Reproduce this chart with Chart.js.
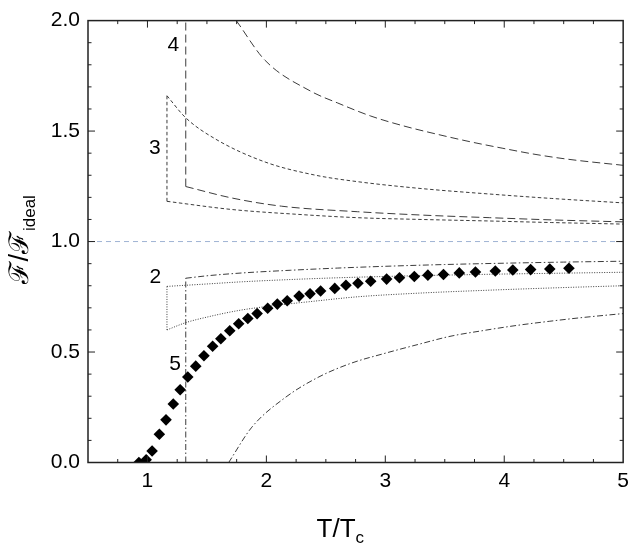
<!DOCTYPE html>
<html lang="en">
<head>
<meta charset="UTF-8">
<title>F/F_ideal vs T/Tc</title>
<script src="https://cdn.jsdelivr.net/npm/chart.js"></script>
<style>
  html, body { margin: 0; padding: 0; background: #fff; }
</style>
</head>
<body>
<canvas id="chart" width="635" height="545"></canvas>
<script>
// axis ticks
const xTicks = [1, 2, 3, 4, 5];
const yTicks = [0, 0.5, 1.0, 1.5, 2.0];
const refLevel = 1.0;

// diamonds (lattice points)
const latticeT = [0.928, 0.989, 1.039, 1.10, 1.156, 1.217, 1.275, 1.339, 1.406, 1.475,
                  1.548, 1.617, 1.692, 1.767, 1.844, 1.922, 2.011, 2.092, 2.175, 2.275,
                  2.367, 2.456, 2.575, 2.669, 2.77, 2.877, 3.011, 3.119, 3.244, 3.358,
                  3.489, 3.622, 3.758, 3.925, 4.072, 4.222, 4.383, 4.544];
const latticeF = [0.0, 0.012, 0.052, 0.128, 0.193, 0.265, 0.329, 0.387, 0.436, 0.483,
                  0.526, 0.56, 0.596, 0.628, 0.652, 0.674, 0.698, 0.717, 0.732, 0.753,
                  0.764, 0.776, 0.788, 0.802, 0.811, 0.820, 0.830, 0.836, 0.842, 0.848,
                  0.851, 0.858, 0.862, 0.867, 0.871, 0.873, 0.876, 0.879];

// curve 2 (dotted)
const curve2Vertical = [[1.164, 0.60], [1.164, 0.797]];
const curve2Upper = [[1.164, 0.797], [1.5, 0.808], [1.8, 0.818], [2.2, 0.828], [2.6, 0.836],
                     [3.0, 0.842], [3.5, 0.848], [4.0, 0.853], [4.5, 0.857], [5.0, 0.861]];
const curve2Lower = [[1.164, 0.60], [1.322, 0.633], [1.5, 0.658], [1.767, 0.688], [2.0, 0.706],
                     [2.4, 0.73], [2.767, 0.75], [3.3, 0.767], [3.878, 0.78], [4.4, 0.79], [5.0, 0.80]];

// curve 3 (short dashes)
const curve3Vertical = [[1.164, 1.182], [1.164, 1.66]];
const curve3Upper = [[1.164, 1.66], [1.322, 1.56], [1.572, 1.464], [1.989, 1.36], [2.406, 1.301],
                     [2.767, 1.271], [3.3, 1.24], [3.878, 1.215], [4.4, 1.195], [5.0, 1.175]];
const curve3Lower = [[1.164, 1.182], [1.711, 1.145], [2.267, 1.123], [2.767, 1.108], [3.3, 1.10],
                     [3.878, 1.093], [4.4, 1.086], [5.0, 1.079]];

// curve 4 (long dashes)
const curve4Vertical = [[1.322, 1.249], [1.322, 2.0]];
const curve4Upper = [[1.747, 2.0], [1.989, 1.82], [2.378, 1.679], [2.6, 1.627], [2.878, 1.568],
                     [3.156, 1.523], [3.433, 1.486], [3.711, 1.452], [3.989, 1.422], [4.267, 1.394],
                     [4.544, 1.372], [5.0, 1.345]];
const curve4Lower = [[1.322, 1.249], [1.711, 1.197], [2.128, 1.16], [2.767, 1.135], [3.3, 1.12],
                     [3.878, 1.108], [4.4, 1.098], [5.0, 1.089]];

// curve 5 (dash-dot)
const curve5Vertical = [[1.322, 0.0], [1.322, 0.834]];
const curve5Upper = [[1.322, 0.834], [1.5, 0.845], [1.8, 0.858], [2.2, 0.870], [2.6, 0.880],
                     [3.0, 0.888], [3.5, 0.896], [4.0, 0.902], [4.5, 0.907], [5.0, 0.911]];
const curve5Lower = [[1.683, 0.0], [1.878, 0.16], [2.156, 0.293], [2.433, 0.385], [2.711, 0.449],
                     [2.989, 0.493], [3.267, 0.533], [3.544, 0.571], [3.822, 0.597], [4.1, 0.62],
                     [4.378, 0.639], [4.656, 0.656], [5.0, 0.674]];

// curve number labels
const curveNames = ['2', '3', '4', '5'];
const nameT = [1.067, 1.0625, 1.217, 1.233];
const nameF = [0.838, 1.421, 1.887, 0.443];

const FONT = "'Liberation Sans', Arial, Helvetica, sans-serif";
const LINE = '#3c3c3c';

function toPts(arr) {
    return arr.map(p => ({ x: p[0], y: p[1] }));
}

function branch(arr, dash) {
    return {
        data: toPts(arr), showLine: true, borderColor: LINE, borderWidth: 1,
        borderDash: dash, pointRadius: 0, fill: false,
        cubicInterpolationMode: 'monotone'
    };
}

function vertical(arr, dash) {
    return {
        data: toPts(arr), showLine: true, borderColor: LINE, borderWidth: 1,
        borderDash: dash, pointRadius: 0, fill: false, tension: 0
    };
}

const DASH2 = [1, 1.5];
const DASH3 = [3.5, 2.5];
const DASH4 = [8, 4];
const DASH5 = [6, 2.5, 1.5, 2.5];

// inward ticks, frame, axis titles and curve numbers
const framePlugin = {
    id: 'frame',
    afterDraw(chart) {
        const { ctx, chartArea: a, scales: { x, y } } = chart;
        ctx.save();
        ctx.strokeStyle = '#222';
        ctx.lineWidth = 1;
        function seg(x1, y1, x2, y2) {
            ctx.beginPath(); ctx.moveTo(x1, y1); ctx.lineTo(x2, y2); ctx.stroke();
        }
        for (let i = 3; i < 20; i++) {
            const v = i / 4;
            const px = x.getPixelForValue(v);
            const len = i % 4 === 0 ? 7 : 3.5;
            seg(px, a.bottom, px, a.bottom - len);
            seg(px, a.top, px, a.top + len);
        }
        for (let i = 1; i < 20; i++) {
            const py = y.getPixelForValue(i / 10);
            const len = i % 5 === 0 ? 7 : 3.5;
            seg(a.left, py, a.left + len, py);
            seg(a.right, py, a.right - len, py);
        }
        ctx.lineWidth = 1.5;
        ctx.strokeRect(a.left, a.top, a.right - a.left, a.bottom - a.top);

        // curve numbers
        ctx.fillStyle = '#000';
        ctx.font = '21px ' + FONT;
        ctx.textAlign = 'center';
        ctx.textBaseline = 'middle';
        curveNames.forEach((t, i) => {
            ctx.fillText(t, x.getPixelForValue(nameT[i]), y.getPixelForValue(nameF[i]));
        });

        // x title T/Tc
        ctx.textAlign = 'left';
        ctx.textBaseline = 'alphabetic';
        ctx.font = '26px ' + FONT;
        const xt = 'T/T';
        const xw = ctx.measureText(xt).width;
        const xs = (a.left + a.right) / 2 - 39;
        const xb = 537;
        ctx.fillText(xt, xs, xb);
        ctx.font = '17px ' + FONT;
        ctx.fillText('c', xs + xw, xb + 6);

        // y title F/F_ideal
        ctx.translate(28, (a.top + a.bottom) / 2 + 42);
        ctx.rotate(-Math.PI / 2);
        ctx.font = '27px ' + FONT;
        const yt = '\u2131/\u2131';
        const yw = ctx.measureText(yt).width;
        ctx.fillText(yt, 0, 0);
        ctx.font = '17px ' + FONT;
        ctx.fillText('ideal', yw + 1, 7);
        ctx.restore();
    }
};

new Chart(document.getElementById('chart'), {
    type: 'scatter',
    data: {
        datasets: [
            {
                data: latticeT.map((t, i) => ({ x: t, y: latticeF[i] })),
                pointStyle: 'rectRot', pointRadius: 5.8, pointBorderWidth: 0,
                backgroundColor: '#000', borderColor: '#000', showLine: false
            },
            vertical(curve2Vertical, DASH2), branch(curve2Upper, DASH2), branch(curve2Lower, DASH2),
            vertical(curve3Vertical, DASH3), branch(curve3Upper, DASH3), branch(curve3Lower, DASH3),
            vertical(curve4Vertical, DASH4), branch(curve4Upper, DASH4), branch(curve4Lower, DASH4),
            vertical(curve5Vertical, DASH5), branch(curve5Upper, DASH5), branch(curve5Lower, DASH5),
            {
                data: [{ x: 0.5, y: refLevel }, { x: 5, y: refLevel }],
                showLine: true, borderColor: '#9fb3d3', borderWidth: 1,
                borderDash: [5, 4], pointRadius: 0, tension: 0
            }
        ]
    },
    options: {
        responsive: false,
        animation: false,
        layout: { padding: { top: 12.7, right: 7, left: 0, bottom: 0 } },
        plugins: { legend: { display: false }, tooltip: { enabled: false } },
        scales: {
            x: {
                type: 'linear', min: 0.5, max: 5,
                afterBuildTicks: s => { s.ticks = xTicks.map(v => ({ value: v })); },
                afterFit: s => { s.height = 82.5; },
                grid: { display: false, drawTicks: false },
                border: { display: false },
                ticks: {
                    color: '#000', padding: 6, maxRotation: 0, autoSkip: false,
                    font: { family: FONT, size: 21 },
                    callback: v => String(v)
                }
            },
            y: {
                type: 'linear', min: 0, max: 2,
                afterBuildTicks: s => { s.ticks = yTicks.map(v => ({ value: v })); },
                afterFit: s => { s.width = 88; },
                grid: { display: false, drawTicks: false },
                border: { display: false },
                ticks: {
                    color: '#000', padding: 8, autoSkip: false,
                    font: { family: FONT, size: 21 },
                    callback: v => Number(v).toFixed(1)
                }
            }
        }
    },
    plugins: [framePlugin]
});
</script>
</body>
</html>
